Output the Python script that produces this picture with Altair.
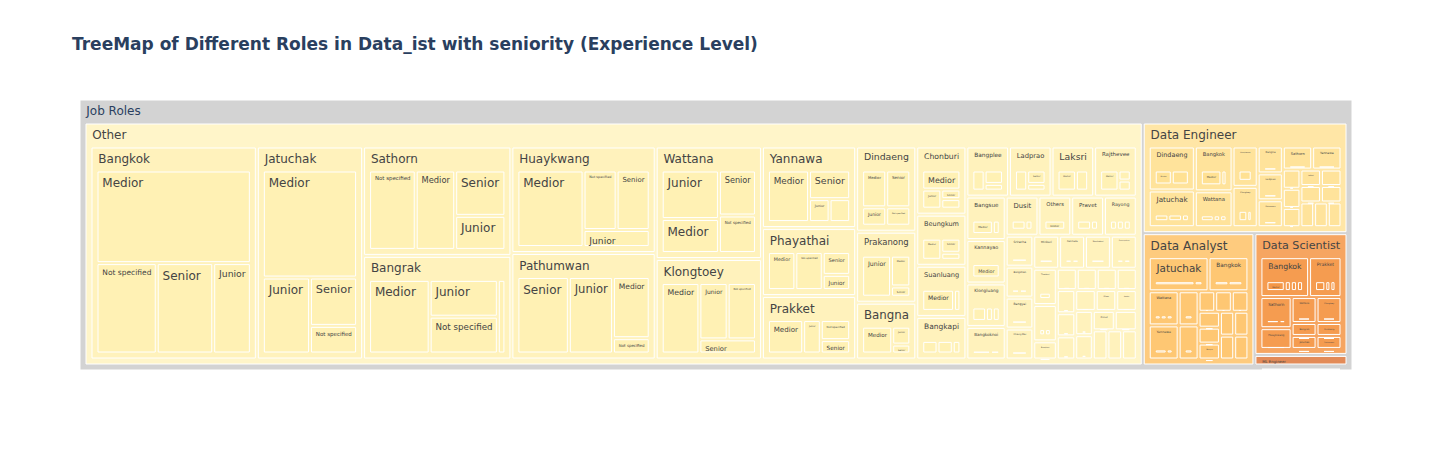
import altair as alt
import pandas as pd

TITLE = "TreeMap of Different Roles in Data_ist with seniority (Experience Level)"
ROOT_LABEL = "Job Roles"

# ---- data: role -> location -> experience level counts ----
OTHER = [
    ("Bangkok", {"Medior": 42, "Not specified": 16, "Senior": 15, "Junior": 10}),
    ("Jatuchak", {"Medior": 31, "Junior": 11, "Senior": 7, "Not specified": 4}),
    ("Sathorn", {"Not specified": 13, "Medior": 11, "Senior": 8, "Junior": 6}),
    ("Bangrak", {"Medior": 16, "Junior": 9, "Not specified": 9, "Senior": 2}),
    ("Huaykwang", {"Medior": 18, "Not specified": 7, "Senior": 7, "Junior": 4}),
    ("Pathumwan", {"Senior": 14, "Junior": 12, "Medior": 8, "Not specified": 2}),
    ("Wattana", {"Junior": 10, "Medior": 7, "Senior": 6, "Not specified": 5}),
    ("Klongtoey", {"Medior": 10, "Junior": 6, "Not specified": 6, "Senior": 3}),
    ("Yannawa", {"Medior": 9, "Senior": 5, "Junior": 2, "Not specified": 2}),
    ("Phayathai", {"Medior": 5, "Not specified": 5, "Senior": 3, "Junior": 2}),
    ("Prakket", {"Medior": 6, "Junior": 3, "Not specified": 3, "Senior": 2}),
    ("Dindaeng", {"Medior": 4, "Senior": 4, "Junior": 2, "Not specified": 2}),
    ("Prakanong", {"Junior": 6, "Medior": 3, "Senior": 1}),
    ("Bangna", {"Medior": 5, "Junior": 2, "Senior": 1}),
    ("Chonburi", {"Medior": 4, "Junior": 2, "Senior": 1, "Not specified": 1}),
    ("Beungkum", {"Medior": 3, "Senior": 2, "Junior": 1}),
    ("Suanluang", {"Medior": 5, "Junior": 1}),
    ("Bangkapi", {"Junior": 2, "Medior": 2, "Senior": 1}),
    ("Bangplee", {"Medior": 2, "Not specified": 2, "Senior": 1}),
    ("Ladprao", {"Junior": 2, "Senior": 2, "Medior": 1}),
    ("Laksri", {"Medior": 3, "Junior": 2}),
    ("Rajthevee", {"Medior": 3, "Junior": 1, "Senior": 1}),
    ("Bangsue", {"Medior": 3, "Junior": 1}),
    ("Kannayao", {"Medior": 4}),
    ("Klongluang", {"Junior": 2, "Medior": 1, "Senior": 1}),
    ("Bangkoknoi", {"Medior": 2, "Junior": 1}),
    ("Dusit", {"Medior": 2, "Junior": 1}),
    ("Others", {"Medior": 3}),
    ("Pravet", {"Medior": 2, "Senior": 1}),
    ("Rayong", {"Junior": 1, "Medior": 1, "Senior": 1}),
    ("Sriracha", {"Medior": 2}),
    ("Bangkhen", {"Medior": 1, "Junior": 1}),
    ("Bangyai", {"Medior": 2}),
    ("Chiang Mai", {"Senior": 2}),
    ("Minburi", {"Medior": 2}),
    ("Ratchada", {"Medior": 1, "Junior": 1}),
    ("Nonthaburi", {"Medior": 2}),
    ("Samutprakan", {"Medior": 1, "Senior": 1}),
    ("Thonburi", {"Medior": 2}),
    ("Ladkrabang", {"Junior": 1, "Medior": 1}),
    ("Bangkhae", {"Medior": 1}),
    ("Pattaya", {"Medior": 1}),
    ("Ayutthaya", {"Junior": 1}),
    ("Khonkaen", {"Medior": 1}),
    ("Phuket", {"Senior": 1}),
    ("Nakhonpathom", {"Medior": 1}),
    ("Samsen", {"Junior": 1}),
    ("Chachoengsao", {"Medior": 1}),
    ("Lumpini", {"Medior": 1}),
    ("Silom", {"Senior": 1}),
    ("Asoke", {"Medior": 1}),
    ("Ekkamai", {"Junior": 1}),
    ("Thonglor", {"Medior": 1}),
    ("Onnut", {"Medior": 1}),
    ("Ramkhamhaeng", {"Junior": 1}),
    ("Saphansung", {"Medior": 1}),
    ("Bangbon", {"Medior": 1}),
    ("Nongkhaem", {"Senior": 1}),
]

DATA_ENGINEER = [
    ("Dindaeng", {"Medior": 3, "Not specified": 3}),
    ("Jatuchak", {"Junior": 2, "Medior": 2, "Senior": 1}),
    ("Bangkok", {"Medior": 4, "Junior": 1}),
    ("Wattana", {"Medior": 2, "Junior": 1, "Senior": 1}),
    ("Huaykwang", {"Medior": 3}),
    ("Klongtoey", {"Medior": 2, "Junior": 1}),
    ("Bangna", {"Medior": 2}),
    ("Ladprao", {"Senior": 2}),
    ("Pathumwan", {"Medior": 2}),
    ("Sathorn", {"Medior": 2}),
    ("Yannawa", {"Medior": 2}),
    ("Bangrak", {"Medior": 1}),
    ("Phayathai", {"Junior": 1}),
    ("Prakket", {"Medior": 1}),
    ("Laksri", {"Medior": 1}),
    ("Bangkapi", {"Senior": 1}),
    ("Chonburi", {"Medior": 1}),
    ("Bangsue", {"Medior": 1}),
    ("Dusit", {"Junior": 1}),
    ("Prakanong", {"Medior": 1}),
    ("Rangsit", {"Medior": 1}),
]

DATA_ANALYST = [
    ("Jatuchak", {"Medior": 5, "Junior": 1}),
    ("Bangkok", {"Medior": 2, "Junior": 2}),
    ("Wattana", {"Medior": 1, "Junior": 1, "Senior": 1}),
    ("Yannawa", {"Medior": 2, "Junior": 1}),
    ("Prakket", {"Medior": 2}),
    ("Huaykwang", {"Junior": 2}),
    ("Bangrak", {"Medior": 1}),
    ("Pathumwan", {"Medior": 1}),
    ("Klongtoey", {"Junior": 1}),
    ("Dindaeng", {"Medior": 1}),
    ("Ladprao", {"Medior": 1}),
    ("Bangna", {"Senior": 1}),
    ("Phayathai", {"Medior": 1}),
    ("Laksri", {"Junior": 1}),
    ("Rajthevee", {"Medior": 1}),
    ("Chonburi", {"Medior": 1}),
]

DATA_SCIENTIST = [
    ("Bangkok", {"Medior": 3, "Senior": 1, "Junior": 1, "Not specified": 1}),
    ("Prakket", {"Medior": 2, "Junior": 1, "Senior": 1}),
    ("Sathorn", {"Medior": 2, "Junior": 1}),
    ("Huaykwang", {"Medior": 2}),
    ("Wattana", {"Senior": 2}),
    ("Klongtoey", {"Medior": 2}),
    ("Bangrak", {"Medior": 1}),
    ("Jatuchak", {"Junior": 1}),
    ("Dindaeng", {"Medior": 1}),
    ("Pathumwan", {"Senior": 1}),
]

ML_ENGINEER = [
    ("Bangkok", {"Medior": 2}),
]

ROLES = ["Other", "Data Engineer", "Data Analyst", "Data Scientist", "ML Engineer"]
ROLE_DATA = [OTHER, DATA_ENGINEER, DATA_ANALYST, DATA_SCIENTIST, ML_ENGINEER]

# colours per role for depth 1 / 2 / 3
ROLE_COLORS = {
    "Other": ["#fff5c9", "#fff2bc", "#fff1b4"],
    "Data Engineer": ["#ffe6a6", "#ffe39b", "#ffe193"],
    "Data Analyst": ["#fecb7e", "#fec773", "#fec46b"],
    "Data Scientist": ["#f6a561", "#f59c50", "#f49747"],
    "ML Engineer": ["#e38b58", "#e1834c", "#df7f46"],
}
ROOT_COLOR = "#d3d3d3"
FONT = "DejaVu Sans"

# ---- layout (squarified treemap with header padding) ----
W, H = 1272, 270
PAD_T, PAD_S, PAD_IN = 24, 6, 3


def build_tree():
    roles = []
    for role, locs in zip(ROLES, ROLE_DATA):
        loc_nodes = []
        for loc, levels in locs:
            leaves = [{"label": lv, "value": c, "children": [], "role": role}
                      for lv, c in levels.items()]
            leaves.sort(key=lambda n: -n["value"])
            loc_nodes.append({"label": loc, "value": sum(l["value"] for l in leaves),
                              "children": leaves, "role": role})
        loc_nodes.sort(key=lambda n: -n["value"])
        roles.append({"label": role, "value": sum(n["value"] for n in loc_nodes),
                      "children": loc_nodes, "role": role})
    roles.sort(key=lambda n: -n["value"])
    return {"label": ROOT_LABEL, "value": sum(r["value"] for r in roles),
            "children": roles, "role": None}


def squarify(values, x0, y0, x1, y1, ratio=1.0):
    n = len(values)
    rects = [None] * n
    value = float(sum(values))
    i0 = i1 = 0
    while i0 < n:
        dx, dy = x1 - x0, y1 - y0
        if dx <= 0 or dy <= 0 or value <= 0:
            i1 = n
            sumv = value
        else:
            sumv = values[i1]
            i1 += 1
            minv = maxv = sumv
            alpha = max(dy / dx, dx / dy) / (value * ratio)
            beta = sumv * sumv * alpha
            min_ratio = max(maxv / beta, beta / minv)
            while i1 < n:
                nv = values[i1]
                sumv += nv
                minv = min(minv, nv)
                maxv = max(maxv, nv)
                beta = sumv * sumv * alpha
                new_ratio = max(maxv / beta, beta / minv)
                if new_ratio > min_ratio:
                    sumv -= nv
                    break
                min_ratio = new_ratio
                i1 += 1
        row = range(i0, i1)
        frac = sumv / value if value else 1.0
        if dx < dy:
            yb = y0 + dy * frac
            k = (x1 - x0) / sumv if sumv else 0
            xx = x0
            for j in row:
                rects[j] = (xx, y0, xx + values[j] * k, yb)
                xx += values[j] * k
            y0 = yb
        else:
            xb = x0 + dx * frac
            k = (y1 - y0) / sumv if sumv else 0
            yy = y0
            for j in row:
                rects[j] = (x0, yy, xb, yy + values[j] * k)
                yy += values[j] * k
            x0 = xb
        value -= sumv
        i0 = i1
    return rects


# approximate DejaVu Sans advance widths (em)
_LOWER = dict(zip("abcdefghijklmnopqrstuvwxyz",
                  [.613, .635, .550, .635, .615, .352, .635, .634, .278, .278, .579, .278, .974,
                   .634, .612, .635, .635, .411, .521, .392, .634, .592, .818, .592, .592, .525]))
_UPPER = dict(zip("ABCDEFGHIJKLMNOPQRSTUVWXYZ",
                  [.684, .686, .698, .770, .632, .575, .775, .752, .295, .295, .656, .557, .863,
                   .748, .787, .603, .787, .695, .635, .611, .732, .684, .989, .685, .611, .685]))


def text_em(s):
    return sum(_LOWER.get(c, _UPPER.get(c, 0.318 if c == " " else 0.6)) for c in s)


rect_rows = []
text_rows = []


def visit(node, x0, y0, x1, y1, p, depth):
    x0 += p; y0 += p; x1 -= p; y1 -= p
    if x1 < x0:
        x0 = x1 = (x0 + x1) / 2
    if y1 < y0:
        y0 = y1 = (y0 + y1) / 2
    if depth == 0:
        fill = ROOT_COLOR
    else:
        fill = ROLE_COLORS[node["role"]][min(depth, 3) - 1]
    rect_rows.append({"x0": x0, "x1": x1, "y0": y0, "y1": y1, "fill": fill,
                      "depth": depth, "name": node["label"], "count": node["value"]})
    w, h = x1 - x0, y1 - y0
    is_leaf = not node["children"]
    if w > 2 and h > 2:
        avail = w - (8 if is_leaf else 12)
        fs = min(12.0, avail / text_em(node["label"]), (h - 3) / 1.2)
        if fs >= 1.6:
            off = 4.3 if is_leaf else 6.3
            text_rows.append({"tx": x0 + off, "ty": y0 + 3 + fs, "fs": fs,
                              "label": node["label"],
                              "tcolor": "#2a3f5f" if depth == 0 else "#444444"})
    if node["children"]:
        q = PAD_IN / 2
        cx0 = x0 + PAD_S - q
        cy0 = y0 + PAD_T - q
        cx1 = x1 - (PAD_S - q)
        cy1 = y1 - (PAD_S - q)
        if cx1 < cx0:
            cx0 = cx1 = (cx0 + cx1) / 2
        if cy1 < cy0:
            cy0 = cy1 = (cy0 + cy1) / 2
        vals = [c["value"] for c in node["children"]]
        rects = squarify(vals, cx0, cy0, cx1, cy1)
        for child, r in zip(node["children"], rects):
            visit(child, r[0], r[1], r[2], r[3], q, depth + 1)


tree = build_tree()
visit(tree, 0, 0, W, H, 0, 0)

rects = pd.DataFrame(rect_rows).sort_values("depth", kind="stable")
texts = pd.DataFrame(text_rows)

xs = alt.Scale(domain=[0, W], nice=False, zero=False)
ys = alt.Scale(domain=[0, H], nice=False, zero=False, reverse=True)

rect_layer = alt.Chart(rects).mark_rect(stroke="white", strokeWidth=1).encode(
    x=alt.X("x0:Q", scale=xs, axis=None),
    x2="x1:Q",
    y=alt.Y("y0:Q", scale=ys, axis=None),
    y2="y1:Q",
    fill=alt.Fill("fill:N", scale=None),
    tooltip=["name:N", "count:Q"],
)

text_layer = alt.Chart(texts).mark_text(
    align="left", baseline="alphabetic", font=FONT
).encode(
    x=alt.X("tx:Q", scale=xs, axis=None),
    y=alt.Y("ty:Q", scale=ys, axis=None),
    text="label:N",
    size=alt.Size("fs:Q", scale=None),
    color=alt.Color("tcolor:N", scale=None),
)

chart = alt.layer(rect_layer, text_layer).properties(
    width=W,
    height=H,
    title=alt.TitleParams(
        text=TITLE, anchor="start", frame="group", font=FONT,
        fontSize=17, fontWeight="bold", color="#2a3f5f", dx=-8, offset=33,
        baseline="alphabetic",
    ),
    padding={"left": 72, "top": 92, "right": 8, "bottom": 8},
    autosize=alt.AutoSizeParams(type="none"),
).configure_view(stroke=None)

chart.save("out.html", embed_options={"renderer": "svg", "actions": False})
